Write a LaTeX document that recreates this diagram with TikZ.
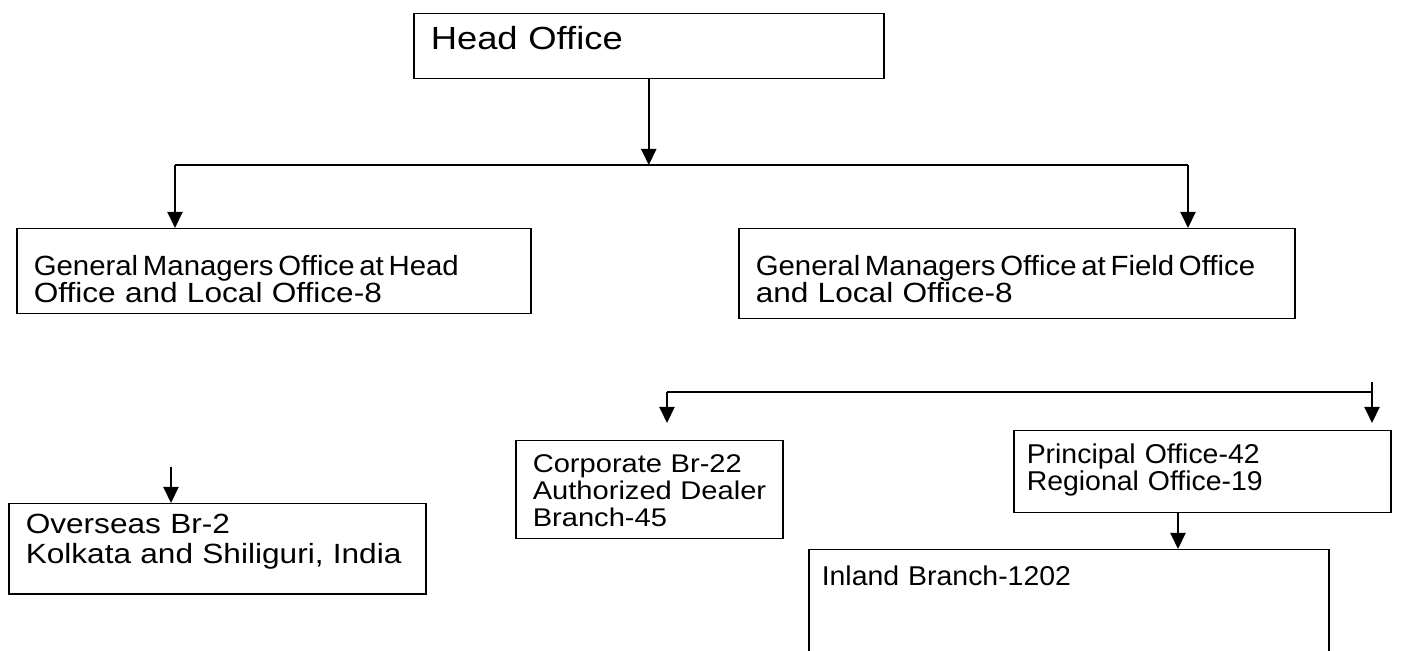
\documentclass[tikz,border=0pt]{standalone}
\usepackage{fontspec}
\setmainfont{Liberation Sans}
\newfontfamily\wideface[FakeStretch=1.137]{Liberation Sans}
\newfontfamily\tightfont[FakeStretch=1.057]{Liberation Sans}
\newfontfamily\narrowfont[FakeStretch=1.045]{Liberation Sans}
\newcommand{\wgap}{\hspace{0.17em}}
\usetikzlibrary{arrows.meta}

\begin{document}
\begin{tikzpicture}[x=0.5pt,y=-0.5pt]
                \useasboundingbox (0,0) rectangle (1418,651);

                \tikzstyle{box}=[rectangle, draw, line width=0.75pt, anchor=north west, align=left, inner xsep=8.5pt, inner ysep=0pt, font=\fontsize{13.9}{13.5}\selectfont\wideface]
                \tikzstyle{small}=[font=\fontsize{12.8}{13.5}\selectfont\wideface]
                \tikzstyle{slim}=[inner xsep=6.5pt, font=\fontsize{13.6}{13.5}\selectfont\narrowfont]

                \node[box, text width=218pt, text height=17.75pt, text depth=14.75pt, font=\fontsize{16}{18}\selectfont\wideface] (head) at (413,13) {Head Office};
                \node[box, text width=240pt, text height=23.5pt, text depth=19pt] (gmh) at (16,228) {{\tightfont General\wgap Managers\wgap Office\wgap at\wgap Head}\\ Office and Local Office-8};
                \node[box, text width=261pt, text height=23.5pt, text depth=21.5pt] (gmf) at (738,228) {{\tightfont General\wgap Managers\wgap Office\wgap at\wgap Field\wgap Office}\\ and Local Office-8};
                \node[box, small, text width=116.5pt, text height=16pt, text depth=33pt] (corp) at (515,440) {Corporate Br-22\\ \mbox{Authorized Dealer}\\ Branch-45};
                \node[box, slim, text width=175.5pt, text height=16.5pt, text depth=24.5pt] (prin) at (1013,430) {Principal Office-42\\ Regional Office-19};
                \node[box, slim, text width=247pt, text height=18pt, text depth=37.5pt] (inl) at (808,549) {Inland Branch-1202};
                \node[box, text width=191.5pt, text height=15pt, text depth=30pt, font=\fontsize{13.9}{15}\selectfont\wideface] (over) at (8,503) {Overseas Br-2\\ Kolkata and Shiliguri, India};

                \tikzstyle{bind}=[-{Triangle[width=7.5pt,length=8pt]}, line width=1pt]
                \tikzstyle{bus}=[line width=1pt]

                \coordinate (busL) at (175,165);
                \coordinate (busR) at (1188,165);
                \coordinate (busC) at (667,392);
                \coordinate (busP) at (1372,392);
                \coordinate (pdrop) at ([xshift=82.5pt]prin.south west);
                \coordinate (ovtop) at (171,467);

                \draw[bind] (head) -- (head |- busL);
                \draw[bus] (busL) -- (busR);
                \draw[bind] (busL) -- (busL |- gmh.north);
                \draw[bind] (busR) -- (busR |- gmf.north);
                \draw[bus] (busC) -- (busP);
                \draw[bind, shorten >=8.5pt] (busC) -- (busC |- corp.north);
                \draw[bind, shorten >=3.5pt] ([yshift=5pt]busP) -- (busP |- prin.north);
                \draw[bind] (pdrop) -- (pdrop |- inl.north);
                \draw[bind] (ovtop) -- (ovtop |- over.north);
\end{tikzpicture}
\end{document}
